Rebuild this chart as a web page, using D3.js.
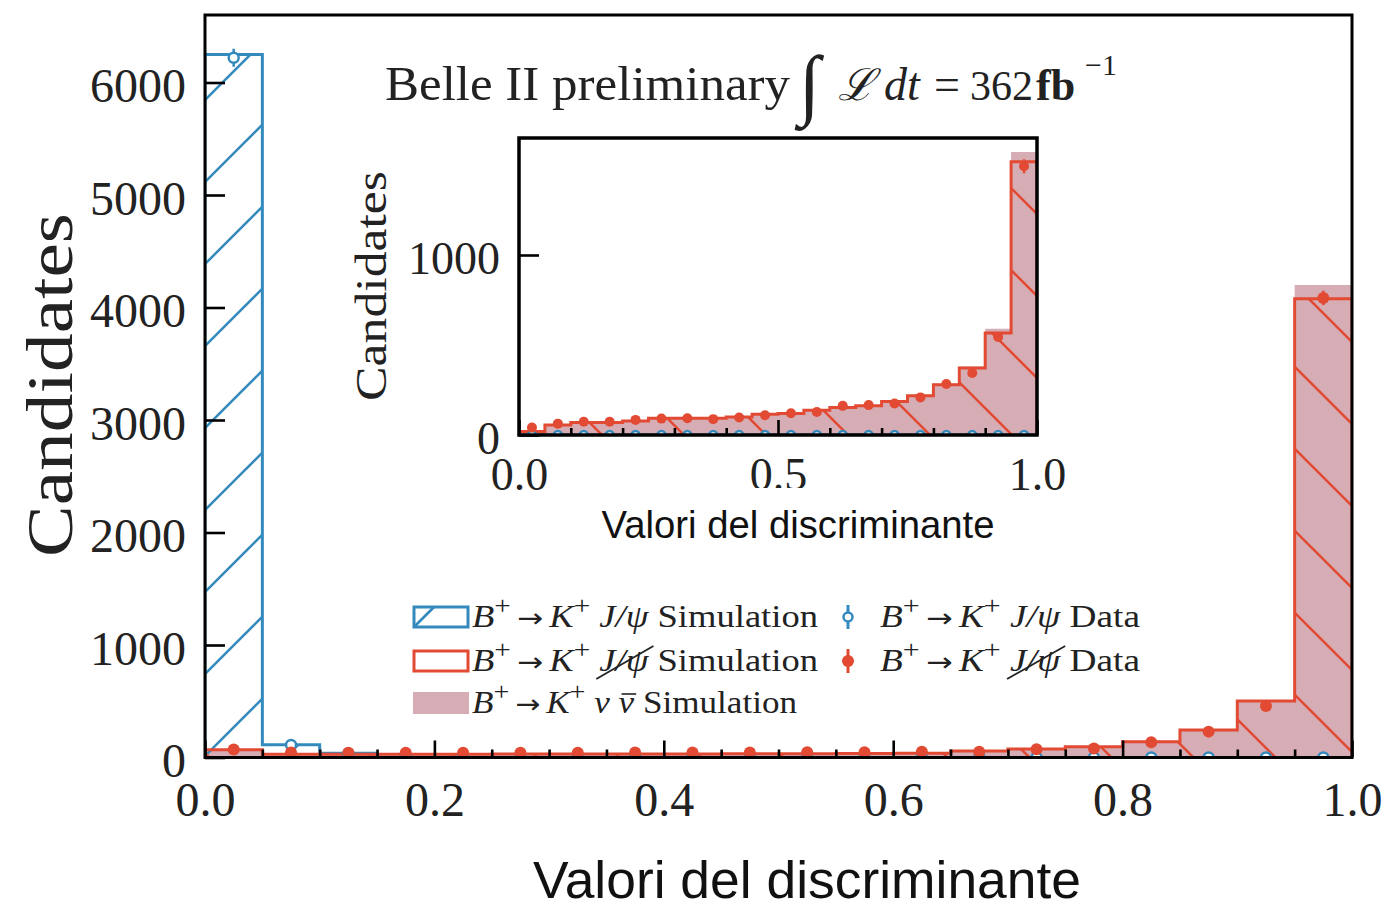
<!DOCTYPE html>
<html lang="en">
<head>
<meta charset="UTF-8">
<title>Valori del discriminante</title>
<script src="https://cdnjs.cloudflare.com/ajax/libs/d3/7.8.5/d3.min.js"></script>
<style>
  body { margin: 0; background: #fff; }
  svg { display: block; }
  .serif { font-family: "Liberation Serif", "DejaVu Serif", serif; }
  .sans { font-family: "Liberation Sans", Arial, sans-serif; }
</style>
</head>
<body>
<svg id="chart" width="1389" height="907"></svg>
<script>
// ---- data ----
// left edges of the 20 bins, each 0.05 wide
const binLeft = [0.00, 0.05, 0.10, 0.15, 0.20, 0.25, 0.30, 0.35, 0.40, 0.45,
                 0.50, 0.55, 0.60, 0.65, 0.70, 0.75, 0.80, 0.85, 0.90, 0.95];
const binWidth = 0.05;

// main panel
const mainBlueSim  = [6250, 113, 38, 0, 0, 0, 0, 0, 0, 0, 0, 0, 0, 0, 0, 0, 0, 0, 0, 0];
const mainBlueData = [6220, 112, 36, 8, 3, 1, 0, 0, 0, 0, 0, 0, 0, 0, 0, 0, 0, 0, 0, 0];
const mainBlueErr  = [79, 11, 6, 3, 2, 1, 0, 0, 0, 0, 0, 0, 0, 0, 0, 0, 0, 0, 0, 0];
const mainRedSim   = [69, 30, 30, 30, 30, 31, 31, 32, 32, 33, 34, 35, 37, 58, 76, 96, 141, 245, 503, 4077];
const mainRedData  = [72, 45, 43, 42, 42, 42, 43, 44, 44, 45, 46, 47, 52, 52, 73, 81, 135, 230, 458, 4085];
const mainRedErr   = [9, 7, 7, 7, 7, 7, 7, 7, 7, 7, 7, 7, 7, 7, 9, 9, 12, 15, 21, 64];
const mainNuNu     = [65, 28, 28, 28, 28, 29, 30, 30, 31, 32, 33, 34, 36, 56, 75, 95, 140, 245, 505, 4200];

// inset panel
const insetRedSim  = [20, 56, 69, 69, 78, 93, 93, 93, 100, 115, 119, 138, 153, 162, 186, 218, 279, 372, 566, 1518];
const insetRedData = [41, 63, 74, 74, 84, 91, 93, 88, 97, 110, 121, 128, 162, 166, 175, 209, 283, 344, 544, 1493];
const insetRedErr  = [6, 8, 9, 9, 9, 10, 10, 9, 10, 10, 11, 11, 13, 13, 13, 14, 17, 19, 23, 39];
const insetNuNu    = [22, 58, 70, 70, 80, 93, 94, 95, 100, 115, 120, 138, 153, 163, 186, 220, 285, 380, 590, 1572];
const insetBlueData = [0, 0, 0, 0, 0, 0, 0, 0, 0, 0, 0, 0, 0, 0, 0, 0, 0, 0, 0, 0];

// ticks
const mainXTicks = [0, 0.2, 0.4, 0.6, 0.8, 1.0];
const mainXMinor = [0.05, 0.1, 0.15, 0.25, 0.3, 0.35, 0.45, 0.5, 0.55, 0.65, 0.7, 0.75, 0.85, 0.9, 0.95];
const mainYTicks = [0, 1000, 2000, 3000, 4000, 5000, 6000];
const insetXTicks = [0, 0.5, 1.0];
const insetXMinor = [0.1, 0.2, 0.3, 0.4, 0.6, 0.7, 0.8, 0.9];
const insetYTicks = [0, 1000];

const BLUE = '#348ABD', RED = '#E24A33', PINK = '#d6adb5', INK = '#222';

const svg = d3.select('#chart');
const defs = svg.append('defs');

// hatch patterns in user space, so the lines run on across bins
function hatch(id, dir, color, phase) {
  const s = 82;
  const p = defs.append('pattern')
    .attr('id', id)
    .attr('patternUnits', 'userSpaceOnUse')
    .attr('width', s).attr('height', s)
    .attr('patternTransform', `translate(0,${phase})`);
  const d = dir === '/'
    ? `M-6,${s + 6}L${s + 6},-6 M-6,6L6,-6 M${s - 6},${s + 6}L${s + 6},${s - 6}`
    : `M-6,-6L${s + 6},${s + 6} M-6,${s - 6}L6,${s + 6} M${s - 6},-6L${s + 6},6`;
  p.append('path').attr('d', d).attr('stroke', color).attr('stroke-width', 2.6).attr('fill', 'none');
}
hatch('hBlue', '/', BLUE, 59);
hatch('hRed', '\\', RED, 56);
hatch('hRedIn', '\\', RED, 79);

function stepPath(vals, x, y, close) {
  const p = d3.path();
  p.moveTo(x(binLeft[0]), y(0));
  vals.forEach((v, i) => {
    p.lineTo(x(binLeft[i]), y(v));
    p.lineTo(x(binLeft[i] + binWidth), y(v));
  });
  p.lineTo(x(binLeft[binLeft.length - 1] + binWidth), y(0));
  if (close) p.closePath();
  return p.toString();
}

function drawPanel(g, x, y, cfg) {
  const [x0, x1] = x.range(), [yb, yt] = y.range();
  const clipId = cfg.id + 'Clip';
  defs.append('clipPath').attr('id', clipId)
    .append('rect').attr('x', x0).attr('y', yt).attr('width', x1 - x0).attr('height', yb - yt);

  g.append('rect').attr('x', x0).attr('y', yt).attr('width', x1 - x0).attr('height', yb - yt).attr('fill', '#fff');

  const plot = g.append('g').attr('clip-path', `url(#${clipId})`);

  // nu nubar simulation (filled)
  plot.append('path').attr('d', stepPath(cfg.nunu, x, y, true)).attr('fill', PINK);

  // J/psi simulation
  if (cfg.blueSim) {
    plot.append('path').attr('d', stepPath(cfg.blueSim, x, y, true)).attr('fill', 'url(#hBlue)');
    plot.append('path').attr('d', stepPath(cfg.blueSim, x, y, false))
      .attr('fill', 'none').attr('stroke', BLUE).attr('stroke-width', 3);
  } else {
    plot.append('path').attr('d', stepPath(cfg.blueData, x, y, false))
      .attr('fill', 'none').attr('stroke', BLUE).attr('stroke-width', 3);
  }

  // vetoed simulation
  plot.append('path').attr('d', stepPath(cfg.redSim, x, y, true)).attr('fill', `url(#${cfg.redHatch})`);
  plot.append('path').attr('d', stepPath(cfg.redSim, x, y, false))
    .attr('fill', 'none').attr('stroke', RED).attr('stroke-width', 3);

  const cx = i => x(binLeft[i] + binWidth / 2);

  // J/psi data (open)
  const bd = plot.append('g');
  cfg.blueData.forEach((v, i) => {
    const e = cfg.blueErr ? cfg.blueErr[i] : 0;
    if (e > 0) bd.append('line').attr('x1', cx(i)).attr('x2', cx(i)).attr('y1', y(v - e)).attr('y2', y(v + e))
      .attr('stroke', BLUE).attr('stroke-width', 2.5);
    bd.append('circle').attr('cx', cx(i)).attr('cy', y(v)).attr('r', cfg.rBlue)
      .attr('fill', '#fff').attr('stroke', BLUE).attr('stroke-width', 2.5);
  });

  // vetoed data (filled)
  const rd = plot.append('g');
  cfg.redData.forEach((v, i) => {
    const e = cfg.redErr[i];
    rd.append('line').attr('x1', cx(i)).attr('x2', cx(i)).attr('y1', y(v - e)).attr('y2', y(v + e))
      .attr('stroke', RED).attr('stroke-width', 2.5);
    rd.append('circle').attr('cx', cx(i)).attr('cy', y(v)).attr('r', cfg.rRed).attr('fill', RED);
  });

  // axes, ticks pointing inwards
  const xa = g.append('g').attr('transform', `translate(0,${yb})`)
    .call(d3.axisBottom(x).tickValues(cfg.xTicks).tickSize(-cfg.majorLen).tickPadding(cfg.xPad).tickFormat(d3.format('.1f')));
  const xm = g.append('g').attr('transform', `translate(0,${yb})`)
    .call(d3.axisBottom(x).tickValues(cfg.xMinor).tickSize(-cfg.minorLen).tickFormat(''));
  const ya = g.append('g').attr('transform', `translate(${x0},0)`)
    .call(d3.axisLeft(y).tickValues(cfg.yTicks).tickSize(-cfg.yLen).tickPadding(cfg.yPad).tickFormat(d3.format('d')));
  [xa, xm, ya].forEach(a => {
    a.select('.domain').remove();
    a.selectAll('line').attr('stroke', '#000').attr('stroke-width', 2.6);
    a.selectAll('text').attr('class', 'serif').attr('font-size', cfg.tickFont).attr('fill', INK);
  });
  ya.selectAll('text').attr('dy', '0.4em');

  g.append('rect').attr('x', x0).attr('y', yt).attr('width', x1 - x0).attr('height', yb - yt)
    .attr('fill', 'none').attr('stroke', '#000').attr('stroke-width', cfg.spine);
}

// ---- main panel ----
const mx = d3.scaleLinear().domain([0, 1]).range([205, 1352]);
const my = d3.scaleLinear().domain([0, 6600]).range([757.5, 15]);
drawPanel(svg.append('g'), mx, my, {
  id: 'main', nunu: mainNuNu, blueSim: mainBlueSim, blueData: mainBlueData, blueErr: mainBlueErr,
  redSim: mainRedSim, redData: mainRedData, redErr: mainRedErr, redHatch: 'hRed',
  rBlue: 5, rRed: 6, xTicks: mainXTicks, xMinor: mainXMinor, yTicks: mainYTicks,
  majorLen: 17, minorLen: 8, yLen: 20, xPad: 24, yPad: 19, tickFont: 48, spine: 3
});

// ---- inset panel ----
const ix = d3.scaleLinear().domain([0, 1]).range([519, 1037]);
const iy = d3.scaleLinear().domain([0, 1650]).range([435, 138]);
drawPanel(svg.append('g'), ix, iy, {
  id: 'inset', nunu: insetNuNu, blueSim: null, blueData: insetBlueData, blueErr: null,
  redSim: insetRedSim, redData: insetRedData, redErr: insetRedErr, redHatch: 'hRedIn',
  rBlue: 4, rRed: 5, xTicks: insetXTicks, xMinor: insetXMinor, yTicks: insetYTicks,
  majorLen: 15, minorLen: 7, yLen: 20, xPad: 22, yPad: 19, tickFont: 46, spine: 3.5
});

// ---- axis labels ----
svg.append('text').attr('class', 'serif').attr('transform', 'translate(72,385) rotate(-90)')
  .attr('text-anchor', 'middle').attr('font-size', 66).attr('fill', INK)
  .attr('textLength', 344).attr('lengthAdjust', 'spacingAndGlyphs').text('Candidates');
svg.append('text').attr('class', 'serif').attr('transform', 'translate(386,286) rotate(-90)')
  .attr('text-anchor', 'middle').attr('font-size', 44).attr('fill', INK)
  .attr('textLength', 230).attr('lengthAdjust', 'spacingAndGlyphs').text('Candidates');

// the x labels were pasted over the figure on white boxes
svg.append('rect').attr('x', 560).attr('y', 488).attr('width', 440).attr('height', 62).attr('fill', '#fff');
svg.append('text').attr('class', 'sans').attr('x', 798).attr('y', 538).attr('text-anchor', 'middle')
  .attr('font-size', 39).attr('fill', '#111')
  .attr('textLength', 393).attr('lengthAdjust', 'spacingAndGlyphs').text('Valori del discriminante');
svg.append('text').attr('class', 'sans').attr('x', 807).attr('y', 898).attr('text-anchor', 'middle')
  .attr('font-size', 51).attr('fill', '#111')
  .attr('textLength', 548).attr('lengthAdjust', 'spacingAndGlyphs').text('Valori del discriminante');

// ---- title ----
const tg = svg.append('g').attr('class', 'serif').attr('fill', INK);
tg.append('text').attr('x', 385).attr('y', 100).attr('font-size', 48)
  .attr('textLength', 405).attr('lengthAdjust', 'spacingAndGlyphs').text('Belle II preliminary');
tg.append('text').attr('x', 799).attr('y', 110).attr('font-size', 78).attr('font-style', 'italic').text('\u222B');
tg.append('text').attr('x', 838).attr('y', 100).attr('font-size', 44).attr('font-style', 'italic')
  .style('font-family', '"DejaVu Serif", serif').text('\u2112');
tg.append('text').attr('x', 884).attr('y', 100).attr('font-size', 46).attr('font-style', 'italic').text('dt');
tg.append('text').attr('x', 934).attr('y', 100).attr('font-size', 46).text('=');
tg.append('text').attr('x', 970).attr('y', 100).attr('font-size', 42).text('362');
tg.append('text').attr('x', 1036).attr('y', 100).attr('font-size', 44).attr('font-weight', 'bold').text('fb');
tg.append('text').attr('x', 1085).attr('y', 75).attr('font-size', 30).text('\u22121');

// ---- legend ----
function mathText(x, y, parts, size, len) {
  const t = svg.append('text').attr('class', 'serif').attr('x', x).attr('y', y)
    .attr('font-size', size).attr('fill', INK);
  let up = false;
  parts.forEach(p => {
    const ts = t.append('tspan').text(p.t);
    if (p.it) ts.attr('font-style', 'italic');
    if (p.arrow) ts.style('font-family', '"DejaVu Sans", sans-serif').attr('font-size', size * 0.85);
    if (p.sup) { ts.attr('font-size', size * 0.8); if (!up) ts.attr('dy', -size * 0.42); up = true; }
    else if (up) { ts.attr('dy', size * 0.42); up = false; }
  });
  t.attr('textLength', len).attr('lengthAdjust', 'spacingAndGlyphs');
  return t;
}
function charIndex(parts, k) {
  let n = 0;
  for (let i = 0; i < k; i++) n += parts[i].t.length;
  return n;
}
const head = [{ t: 'B', it: true }, { t: '+', sup: true }, { t: '\u2009\u2192\u2009', arrow: true },
              { t: 'K', it: true }, { t: '+', sup: true }, { t: ' ' }];
const jpsi = head.concat([{ t: 'J/\u03C8', it: true }]);
const nunu = head.concat([{ t: '\u03BD \u03BD', it: true }, { t: ' Simulation' }]);

const legendRows = [617, 661, 703];
const lgFont = 31;

// patches
svg.append('rect').attr('x', 414).attr('y', legendRows[0] - 10).attr('width', 54).attr('height', 20)
  .attr('fill', '#fff').attr('stroke', BLUE).attr('stroke-width', 3);
svg.append('line').attr('x1', 414).attr('y1', legendRows[0] + 10).attr('x2', 434).attr('y2', legendRows[0] - 10)
  .attr('stroke', BLUE).attr('stroke-width', 2.6);
svg.append('rect').attr('x', 414).attr('y', legendRows[1] - 10).attr('width', 54).attr('height', 20)
  .attr('fill', '#fff').attr('stroke', RED).attr('stroke-width', 3);
svg.append('rect').attr('x', 413).attr('y', legendRows[2] - 11).attr('width', 56).attr('height', 22)
  .attr('fill', PINK);

// data markers
svg.append('line').attr('x1', 848).attr('x2', 848).attr('y1', legendRows[0] - 12).attr('y2', legendRows[0] + 12)
  .attr('stroke', BLUE).attr('stroke-width', 3);
svg.append('circle').attr('cx', 848).attr('cy', legendRows[0]).attr('r', 4.5)
  .attr('fill', '#fff').attr('stroke', BLUE).attr('stroke-width', 2.5);
svg.append('line').attr('x1', 848).attr('x2', 848).attr('y1', legendRows[1] - 12).attr('y2', legendRows[1] + 12)
  .attr('stroke', RED).attr('stroke-width', 3);
svg.append('circle').attr('cx', 848).attr('cy', legendRows[1]).attr('r', 6).attr('fill', RED);

function slash(t, parts) {
  const k = parts.findIndex(p => p.t === 'J/\u03C8');
  const i0 = charIndex(parts, k);
  const node = t.node();
  const a = node.getStartPositionOfChar(i0);
  const b = node.getEndPositionOfChar(i0 + 2);
  svg.append('line').attr('x1', a.x - 3).attr('y1', a.y + 8).attr('x2', b.x + 5).attr('y2', a.y - 25)
    .attr('stroke', INK).attr('stroke-width', 1.8);
}

const r1 = jpsi.concat([{ t: ' Simulation' }]);
mathText(472, legendRows[0] + 10, r1, lgFont, 346);
const r2t = mathText(472, legendRows[1] + 10, r1, lgFont, 346);
slash(r2t, r1);
const nt = mathText(472, legendRows[2] + 10, nunu, lgFont, 325);
{
  const k = nunu.findIndex(p => p.it && p.t.startsWith('\u03BD'));
  const i = charIndex(nunu, k) + 2;
  const a = nt.node().getStartPositionOfChar(i), b = nt.node().getEndPositionOfChar(i);
  svg.append('line').attr('x1', a.x + 3).attr('x2', b.x + 2).attr('y1', a.y - 19).attr('y2', a.y - 19)
    .attr('stroke', INK).attr('stroke-width', 1.6);
}
const d1 = jpsi.concat([{ t: ' Data' }]);
mathText(880, legendRows[0] + 10, d1, lgFont, 260);
const d2t = mathText(880, legendRows[1] + 10, d1, lgFont, 260);
slash(d2t, d1);
</script>
</body>
</html>
